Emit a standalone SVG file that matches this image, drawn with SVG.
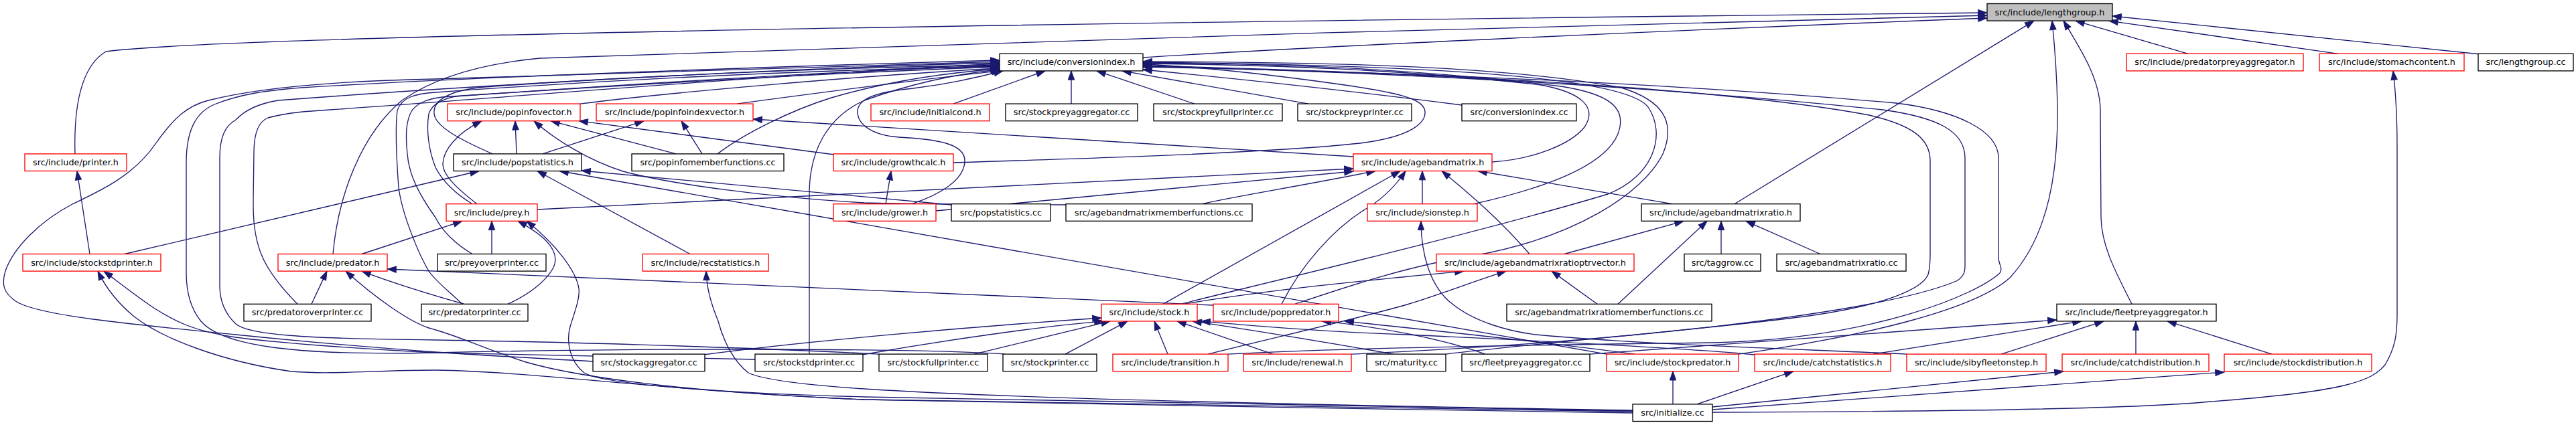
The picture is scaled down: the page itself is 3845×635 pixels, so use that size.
<svg xmlns="http://www.w3.org/2000/svg" width="3845" height="635" viewBox="0 0 3845 635">
<style>
.r{fill:#fff;stroke:#ff0000;stroke-width:1.33}
.k{fill:#fff;stroke:#000;stroke-width:1.33}
.g{fill:#bfbfbf;stroke:#000;stroke-width:1.33}
text{font-family:"DejaVu Sans","Liberation Sans",sans-serif;font-size:12.8px;text-anchor:middle;fill:#000}
.e path{fill:none;stroke:#191970;stroke-width:1.33;marker-end:url(#a)}
</style>
<defs>
<marker id="a" markerUnits="userSpaceOnUse" markerWidth="14" markerHeight="10" refX="13.3" refY="4.67" orient="auto" overflow="visible"><path d="M0,0L13.3,4.67L0,9.33z" fill="#191970" stroke="#191970" stroke-width="1"/></marker>
</defs>
<rect width="3845" height="635" fill="#fff"/>
<g id="edges" class="e">
<path d="M112,229.9 C110,160 120,100 158,77 C300,58 1200,38 2966,19"/>
<path d="M1706,86 C1950,70 2500,45 2966,27"/>
<path d="M497,379.5 C505,290 540,200 600,150 C650,115 720,95 806,87 C1200,70 2400,36 2966,23"/>
<path d="M2589,304.7 L3036,31.1"/>
<path d="M2595,529.1 C2800,500 2950,460 3000,415 C3060,350 3072,250 3071,160 C3070,100 3066,60 3063,31.1"/>
<path d="M3182,454.3 C3160,410 3137,370 3136,325 L3135,163 C3134,120 3110,80 3080,31.1"/>
<path d="M3266,80.3 L3098,31.1"/>
<path d="M3490,80.3 L3148,31.1"/>
<path d="M3702,81 L3153,24"/>
<path d="M1423,155.1 L1560,105.9"/>
<path d="M1599,155.1 L1599,105.9"/>
<path d="M1783,155.1 L1637,105.9"/>
<path d="M1953,155.1 L1675,105.9"/>
<path d="M2182,157 C2050,140 1850,118 1706,104"/>
<path d="M1423,243 C1650,236 1900,228 2030,214 C2110,204 2128,182 2127,167 C2126,150 2100,140 2000,126 C1900,112 1800,100 1706,96"/>
<path d="M2227,242 C2290,238 2345,215 2365,190 C2385,160 2360,138 2300,127 C2100,104 1900,97 1706,95"/>
<path d="M2200,304.7 C2300,282 2395,250 2415,200 C2430,160 2400,140 2330,129 C2100,101 1900,95 1706,94"/>
<path d="M1762,454.3 C1850,432 2200,350 2400,290 C2470,262 2487,200 2460,160 C2430,120 2200,98 1706,93"/>
<path d="M1933,454.3 C2000,432 2100,397 2200,382 C2350,355 2452,290 2482,230 C2502,182 2482,150 2420,131 C2250,99 2000,93 1706,92"/>
<path d="M2158,529.1 C2300,512 2550,492 2700,472 C2820,455 2870,430 2878,410 C2881,400 2881,390 2881,380 L2881,240 C2881,205 2850,186 2790,172 C2600,136 2200,110 1706,98"/>
<path d="M2017,529.1 C2400,512 2800,470 2920,420 C2935,412 2933,400 2933,390 L2933,236 C2933,195 2890,175 2810,164 C2500,132 2100,108 1706,99"/>
<path d="M1833,529.1 C2000,520 2300,515 2560,512 C2800,505 2950,440 2985,408 C2990,400 2983,395 2983,385 L2983,236 C2983,195 2920,165 2830,154 C2500,125 2100,108 1706,100"/>
<path d="M866,155.1 C1000,138 1300,112 1492,102"/>
<path d="M1100,155.1 C1250,135 1400,115 1494,105.9"/>
<path d="M735,229.9 C690,210 650,190 648,170 C646,150 670,135 723,130 C1000,110 1300,100 1492,97"/>
<path d="M1071,229.9 C1110,200 1180,165 1241,146 C1330,120 1420,108 1492,103"/>
<path d="M1208,529.1 L1208,290 C1208,225 1235,175 1290,150 C1360,125 1430,110 1492,104"/>
<path d="M444,454.3 C420,430 400,405 390,380 C378,350 378,320 378,300 L379,228 C379,200 385,182 400,176 C430,168 460,166 493,164 C700,150 1100,115 1492,95"/>
<path d="M690,454.3 C670,435 650,420 640,405 C625,380 600,320 595,280 C592,240 590,190 593,165 C600,145 620,140 650,138 C900,120 1200,105 1492,99"/>
<path d="M705,379.5 C680,365 660,345 650,325 C625,290 610,260 608,230 C605,200 606,180 615,165 C625,152 640,148 660,145 C950,126 1250,108 1492,100"/>
<path d="M705,304.7 C680,290 660,270 650,250 C640,225 636,195 640,170 C645,155 660,148 680,144 C950,125 1250,106 1492,98"/>
<path d="M885,540 C800,535 700,530 650,526 C500,515 420,507 352,500 C200,485 60,472 25,451 C5,438 2,425 8,405 C20,370 60,330 108,305 C150,285 200,262 232,215 C260,175 280,158 311,150 C400,127 550,120 650,118 C1000,106 1300,96 1492,92"/>
<path d="M1500,529.1 C1350,519 900,521 650,527 C430,532 330,515 300,480 C282,458 278,430 278,407 L278,244 C278,195 292,168 320,156 C360,140 400,135 450,131 C700,115 1200,98 1492,90"/>
<path d="M1312,529.1 C1100,518 800,510 650,508 C450,506 370,500 352,484 C333,466 328,445 328,427 L328,236 C328,205 336,188 352,179 C365,165 385,155 415,150 C700,128 1200,100 1492,94"/>
<path d="M1361,304.7 C1400,292 1440,270 1440,240 C1440,215 1400,208 1342,205 C1300,202 1280,185 1280,167 C1280,150 1300,138 1363,132 C1420,125 1460,115 1497,105.9"/>
<path d="M134,379.5 L115,255.5"/>
<path d="M186,379.5 L715,255.5"/>
<path d="M2437,617 C2100,612 1500,602 1290,597 C1000,585 800,555 650,553 C560,553 500,560 435,555 C330,540 240,505 199,472 C175,452 158,430 146,405.1"/>
<path d="M1127,537 C900,532 700,528 650,527 C550,522 420,513 352,504 C290,495 260,480 228,459 C200,440 175,420 155,405.1"/>
<path d="M465,454.3 L488,405.1"/>
<path d="M693,454.3 C660,445 600,428 540,405.1"/>
<path d="M2437,615 C2000,608 1600,603 1290,597 C1000,585 850,560 785,541 C720,520 680,500 640,490 C610,480 560,445 516,405.1"/>
<path d="M2437,614 C2000,607 1600,600 1290,593 C1100,588 900,575 872,557 C850,540 845,510 851,488 C858,465 866,445 864,431 C860,405 830,365 786,330.3"/>
<path d="M758,454.3 C790,440 815,420 826,400 C840,370 800,345 773,330.3"/>
<path d="M2437,613 C2000,606 1500,595 1290,581 C1200,575 1140,568 1117,557 C1095,540 1080,510 1072,480 C1060,450 1055,430 1054,405.1"/>
<path d="M540,379.5 L690,330.3"/>
<path d="M734,379.5 L734,330.3"/>
<path d="M712,304.7 C680,280 660,260 661,244 C662,225 680,200 719,180.7"/>
<path d="M802,313 L2020,252"/>
<path d="M771,229.9 L769,180.7"/>
<path d="M810,229.9 L961,180.7"/>
<path d="M1009,229.9 L822,180.7"/>
<path d="M1048,229.9 L1017,180.7"/>
<path d="M1245,231 L864,180.7"/>
<path d="M1591,306 C1450,305 1350,305 1290,303 C1150,295 1000,275 930,256 C880,240 830,210 797,180.7"/>
<path d="M2020,234 L1124,178"/>
<path d="M1420,306 L868,255"/>
<path d="M1030,379.5 L802,255.5"/>
<path d="M2398,529.1 L835,255.5"/>
<path d="M1322,304.7 L1330,255.5"/>
<path d="M1397,315 L2020,256"/>
<path d="M1794,304.7 C1850,292 1930,280 2053,255.5"/>
<path d="M1736,454.3 L2090,255.5"/>
<path d="M1913,454.3 C1940,400 1990,340 2044,309 C2070,292 2085,275 2098,255.5"/>
<path d="M2123,304.7 L2123,255.5"/>
<path d="M2283,379.5 C2240,330 2200,295 2152,255.5"/>
<path d="M2496,304.7 L2206,255.5"/>
<path d="M2335,379.5 L2513,330.3"/>
<path d="M2415,454.3 L2548,330.3"/>
<path d="M2569,379.5 L2569,330.3"/>
<path d="M2717,379.5 L2606,330.3"/>
<path d="M2384,454.3 L2316,405.1"/>
<path d="M1767,454.3 C1900,432 2050,418 2185,405.1"/>
<path d="M1803,529.1 C1900,505 2050,470 2100,455 C2150,440 2200,420 2248,405.1"/>
<path d="M2846,529.1 C2700,522 2450,515 2293,500 C2250,495 2200,480 2169,455 C2135,430 2121,380 2121,330.3"/>
<path d="M2619,530 C2500,518 2200,505 2100,500 C1950,495 1850,485 1793,479.9"/>
<path d="M2080,529.1 C2000,515 1880,495 1780,479.9"/>
<path d="M1050,530 C1200,510 1450,488 1644,475"/>
<path d="M1287,530 C1400,510 1550,488 1647,479.9"/>
<path d="M1454,529.1 L1657,479.9"/>
<path d="M1590,529.1 L1683,479.9"/>
<path d="M1743,529.1 L1723,479.9"/>
<path d="M1900,529.1 L1757,479.9"/>
<path d="M1811,456 L578,402"/>
<path d="M2217,529.1 C2150,505 2050,487 1973,479.9"/>
<path d="M2440,529.1 C2300,510 2150,495 2007,479.9"/>
<path d="M2373,529.1 L3070,478"/>
<path d="M2796,529.1 L3107,479.9"/>
<path d="M2987,529.1 L3140,479.9"/>
<path d="M3188,529.1 L3188,479.9"/>
<path d="M3391,529.1 L3235,479.9"/>
<path d="M2497,603.9 L2497,554.7"/>
<path d="M2533,603.9 L2677,554.7"/>
<path d="M2556,608 L3080,555"/>
<path d="M2556,612 L3320,556"/>
<path d="M2556,616 C2900,615 3200,610 3300,600 C3500,585 3540,570 3560,545 C3575,520 3578,500 3578,470 L3578,220 C3578,170 3575,130 3572,105.9"/>
</g>
<g id="n_lengthgroup_h"><rect class="g" x="2966" y="5.5" width="187" height="25.6"/><text x="3059.5" y="22.5">src/include/lengthgroup.h</text></g>
<g id="n_conversionindex_h"><rect class="k" x="1492" y="80.3" width="214" height="25.6"/><text x="1599" y="97.3">src/include/conversionindex.h</text></g>
<g id="n_predatorpreyaggregator_h"><rect class="r" x="3174" y="80.3" width="264" height="25.6"/><text x="3306" y="97.3">src/include/predatorpreyaggregator.h</text></g>
<g id="n_stomachcontent_h"><rect class="r" x="3462" y="80.3" width="216" height="25.6"/><text x="3570" y="97.3">src/include/stomachcontent.h</text></g>
<g id="n_lengthgroup_cc"><rect class="k" x="3699" y="80.3" width="142" height="25.6"/><text x="3770" y="97.3">src/lengthgroup.cc</text></g>
<g id="n_popinfovector_h"><rect class="r" x="668" y="155.1" width="198" height="25.6"/><text x="767" y="172.1">src/include/popinfovector.h</text></g>
<g id="n_popinfoindexvector_h"><rect class="r" x="890" y="155.1" width="234" height="25.6"/><text x="1007" y="172.1">src/include/popinfoindexvector.h</text></g>
<g id="n_initialcond_h"><rect class="r" x="1300" y="155.1" width="177" height="25.6"/><text x="1388.5" y="172.1">src/include/initialcond.h</text></g>
<g id="n_stockpreyaggregator_cc"><rect class="k" x="1501" y="155.1" width="197" height="25.6"/><text x="1599.5" y="172.1">src/stockpreyaggregator.cc</text></g>
<g id="n_stockpreyfullprinter_cc"><rect class="k" x="1722" y="155.1" width="192" height="25.6"/><text x="1818" y="172.1">src/stockpreyfullprinter.cc</text></g>
<g id="n_stockpreyprinter_cc"><rect class="k" x="1937" y="155.1" width="170" height="25.6"/><text x="2022" y="172.1">src/stockpreyprinter.cc</text></g>
<g id="n_conversionindex_cc"><rect class="k" x="2182" y="155.1" width="171" height="25.6"/><text x="2267.5" y="172.1">src/conversionindex.cc</text></g>
<g id="n_printer_h"><rect class="r" x="37" y="229.9" width="152" height="25.6"/><text x="113" y="246.9">src/include/printer.h</text></g>
<g id="n_popstatistics_h"><rect class="k" x="677" y="229.9" width="191" height="25.6"/><text x="772.5" y="246.9">src/include/popstatistics.h</text></g>
<g id="n_popinfomemberfunctions_cc"><rect class="k" x="943" y="229.9" width="227" height="25.6"/><text x="1056.5" y="246.9">src/popinfomemberfunctions.cc</text></g>
<g id="n_growthcalc_h"><rect class="r" x="1244" y="229.9" width="179" height="25.6"/><text x="1333.5" y="246.9">src/include/growthcalc.h</text></g>
<g id="n_agebandmatrix_h"><rect class="r" x="2020" y="229.9" width="207" height="25.6"/><text x="2123.5" y="246.9">src/include/agebandmatrix.h</text></g>
<g id="n_prey_h"><rect class="r" x="666" y="304.7" width="136" height="25.6"/><text x="734" y="321.7">src/include/prey.h</text></g>
<g id="n_grower_h"><rect class="r" x="1244" y="304.7" width="153" height="25.6"/><text x="1320.5" y="321.7">src/include/grower.h</text></g>
<g id="n_popstatistics_cc"><rect class="k" x="1420" y="304.7" width="148" height="25.6"/><text x="1494" y="321.7">src/popstatistics.cc</text></g>
<g id="n_agebandmatrixmemberfunctions_cc"><rect class="k" x="1591" y="304.7" width="278" height="25.6"/><text x="1730" y="321.7">src/agebandmatrixmemberfunctions.cc</text></g>
<g id="n_sionstep_h"><rect class="r" x="2041" y="304.7" width="164" height="25.6"/><text x="2123" y="321.7">src/include/sionstep.h</text></g>
<g id="n_agebandmatrixratio_h"><rect class="k" x="2450" y="304.7" width="237" height="25.6"/><text x="2568.5" y="321.7">src/include/agebandmatrixratio.h</text></g>
<g id="n_stockstdprinter_h"><rect class="r" x="34" y="379.5" width="206" height="25.6"/><text x="137" y="396.5">src/include/stockstdprinter.h</text></g>
<g id="n_predator_h"><rect class="r" x="415" y="379.5" width="163" height="25.6"/><text x="496.5" y="396.5">src/include/predator.h</text></g>
<g id="n_preyoverprinter_cc"><rect class="k" x="653" y="379.5" width="162" height="25.6"/><text x="734" y="396.5">src/preyoverprinter.cc</text></g>
<g id="n_recstatistics_h"><rect class="r" x="959" y="379.5" width="188" height="25.6"/><text x="1053" y="396.5">src/include/recstatistics.h</text></g>
<g id="n_agebandmatrixratioptrvector_h"><rect class="r" x="2144" y="379.5" width="295" height="25.6"/><text x="2291.5" y="396.5">src/include/agebandmatrixratioptrvector.h</text></g>
<g id="n_taggrow_cc"><rect class="k" x="2514" y="379.5" width="114" height="25.6"/><text x="2571" y="396.5">src/taggrow.cc</text></g>
<g id="n_agebandmatrixratio_cc"><rect class="k" x="2652" y="379.5" width="193" height="25.6"/><text x="2748.5" y="396.5">src/agebandmatrixratio.cc</text></g>
<g id="n_predatoroverprinter_cc"><rect class="k" x="364" y="454.3" width="190" height="25.6"/><text x="459" y="471.3">src/predatoroverprinter.cc</text></g>
<g id="n_predatorprinter_cc"><rect class="k" x="629" y="454.3" width="159" height="25.6"/><text x="708.5" y="471.3">src/predatorprinter.cc</text></g>
<g id="n_stock_h"><rect class="r" x="1644" y="454.3" width="143" height="25.6"/><text x="1715.5" y="471.3">src/include/stock.h</text></g>
<g id="n_poppredator_h"><rect class="r" x="1811" y="454.3" width="187" height="25.6"/><text x="1904.5" y="471.3">src/include/poppredator.h</text></g>
<g id="n_agebandmatrixratiomemberfunctions_cc"><rect class="k" x="2249" y="454.3" width="306" height="25.6"/><text x="2402" y="471.3">src/agebandmatrixratiomemberfunctions.cc</text></g>
<g id="n_fleetpreyaggregator_h"><rect class="k" x="3070" y="454.3" width="238" height="25.6"/><text x="3189" y="471.3">src/include/fleetpreyaggregator.h</text></g>
<g id="n_stockaggregator_cc"><rect class="k" x="885" y="529.1" width="167" height="25.6"/><text x="968.5" y="546.1">src/stockaggregator.cc</text></g>
<g id="n_stockstdprinter_cc"><rect class="k" x="1127" y="529.1" width="161" height="25.6"/><text x="1207.5" y="546.1">src/stockstdprinter.cc</text></g>
<g id="n_stockfullprinter_cc"><rect class="k" x="1312" y="529.1" width="162" height="25.6"/><text x="1393" y="546.1">src/stockfullprinter.cc</text></g>
<g id="n_stockprinter_cc"><rect class="k" x="1497" y="529.1" width="140" height="25.6"/><text x="1567" y="546.1">src/stockprinter.cc</text></g>
<g id="n_transition_h"><rect class="r" x="1661" y="529.1" width="172" height="25.6"/><text x="1747" y="546.1">src/include/transition.h</text></g>
<g id="n_renewal_h"><rect class="r" x="1856" y="529.1" width="161" height="25.6"/><text x="1936.5" y="546.1">src/include/renewal.h</text></g>
<g id="n_maturity_cc"><rect class="k" x="2040" y="529.1" width="118" height="25.6"/><text x="2099" y="546.1">src/maturity.cc</text></g>
<g id="n_fleetpreyaggregator_cc"><rect class="k" x="2182" y="529.1" width="191" height="25.6"/><text x="2277.5" y="546.1">src/fleetpreyaggregator.cc</text></g>
<g id="n_stockpredator_h"><rect class="r" x="2398" y="529.1" width="197" height="25.6"/><text x="2496.5" y="546.1">src/include/stockpredator.h</text></g>
<g id="n_catchstatistics_h"><rect class="r" x="2619" y="529.1" width="203" height="25.6"/><text x="2720.5" y="546.1">src/include/catchstatistics.h</text></g>
<g id="n_sibyfleetonstep_h"><rect class="r" x="2846" y="529.1" width="208" height="25.6"/><text x="2950" y="546.1">src/include/sibyfleetonstep.h</text></g>
<g id="n_catchdistribution_h"><rect class="r" x="3078" y="529.1" width="219" height="25.6"/><text x="3187.5" y="546.1">src/include/catchdistribution.h</text></g>
<g id="n_stockdistribution_h"><rect class="r" x="3320" y="529.1" width="220" height="25.6"/><text x="3430" y="546.1">src/include/stockdistribution.h</text></g>
<g id="n_initialize_cc"><rect class="k" x="2437" y="603.9" width="119" height="25.6"/><text x="2496.5" y="620.9">src/initialize.cc</text></g>
</svg>
